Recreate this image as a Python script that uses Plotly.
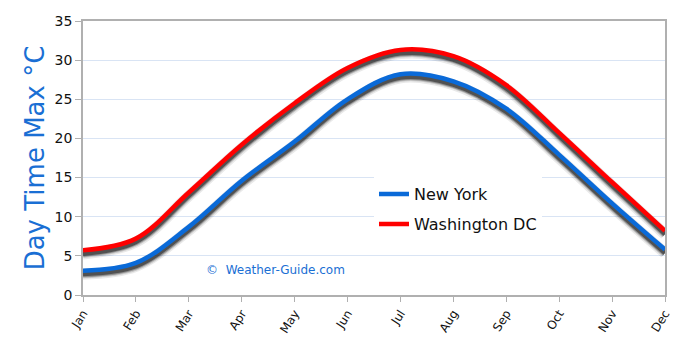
import plotly.graph_objects as go

# Monthly average daytime maximum temperatures (°C)
months = ["Jan", "Feb", "Mar", "Apr", "May", "Jun",
          "Jul", "Aug", "Sep", "Oct", "Nov", "Dec"]
new_york = [3.1, 4.1, 8.7, 14.6, 19.6, 25.0, 28.2, 27.3, 23.8, 17.9, 11.7, 5.8]
washington_dc = [5.7, 7.2, 13.1, 19.2, 24.5, 29.0, 31.3, 30.5, 26.8, 20.7, 14.4, 8.2]

series = [
    ("New York", new_york, "#0a6ad8"),
    ("Washington DC", washington_dc, "#ff0000"),
]

y_ticks = list(range(0, 36, 5))

fig = go.Figure()

# Soft drop shadow under each line, drawn as stacked translucent gray strokes
shadow_drop = 0.45
shadow_layers = [(11, 0.10), (8, 0.18), (6, 0.35), (4, 0.6)]

for name, values, color in series:
    shifted = [v - shadow_drop for v in values]
    for width, alpha in shadow_layers:
        fig.add_trace(go.Scatter(
            x=months, y=shifted, mode="lines",
            line=dict(color=f"rgba(40,40,40,{alpha})", width=width, shape="spline", smoothing=1),
            hoverinfo="skip", showlegend=False,
        ))
    fig.add_trace(go.Scatter(
        x=months, y=values, mode="lines", name=name, legendgroup=name,
        line=dict(color=color, width=4.5, shape="spline", smoothing=1),
    ))

fig.add_annotation(
    x=0.208, y=0.092, xref="paper", yref="paper",
    text="©  Weather-Guide.com", showarrow=False,
    font=dict(family="DejaVu Sans", size=12, color="#1a6fd4"),
    xanchor="left", yanchor="middle",
)

fig.update_layout(
    width=690, height=340,
    margin=dict(l=83, r=25, t=21, b=45, autoexpand=False),
    paper_bgcolor="white", plot_bgcolor="white",
    font=dict(family="DejaVu Sans", color="#222222"),
    legend=dict(
        x=0.5, y=0.43, xanchor="left", yanchor="top",
        bgcolor="white", font=dict(size=16, color="#111111"),
        itemwidth=30, traceorder="grouped", tracegroupgap=6,
    ),
    showlegend=True,
)

fig.update_xaxes(
    type="category", range=[0, 11], automargin=False,
    showgrid=False, showline=True, linecolor="#b0b0b0", linewidth=1.5, mirror=True,
    ticks="outside", ticklen=5, tickcolor="#b0b0b0",
    tickangle=-58, tickfont=dict(size=12, color="#111111"),
)

fig.update_yaxes(
    range=[0, 35], tickvals=y_ticks, automargin=False,
    showgrid=True, gridcolor="#d9e4f4", gridwidth=1,
    showline=True, linecolor="#b0b0b0", linewidth=1.5, mirror=True,
    ticks="outside", ticklen=6, tickcolor="#b0b0b0",
    tickfont=dict(size=14, color="#111111"), zeroline=False,
    title=dict(text="Day Time Max °C", font=dict(size=26, color="#1a6fd4"), standoff=3),
)

fig.write_html("out.html")
